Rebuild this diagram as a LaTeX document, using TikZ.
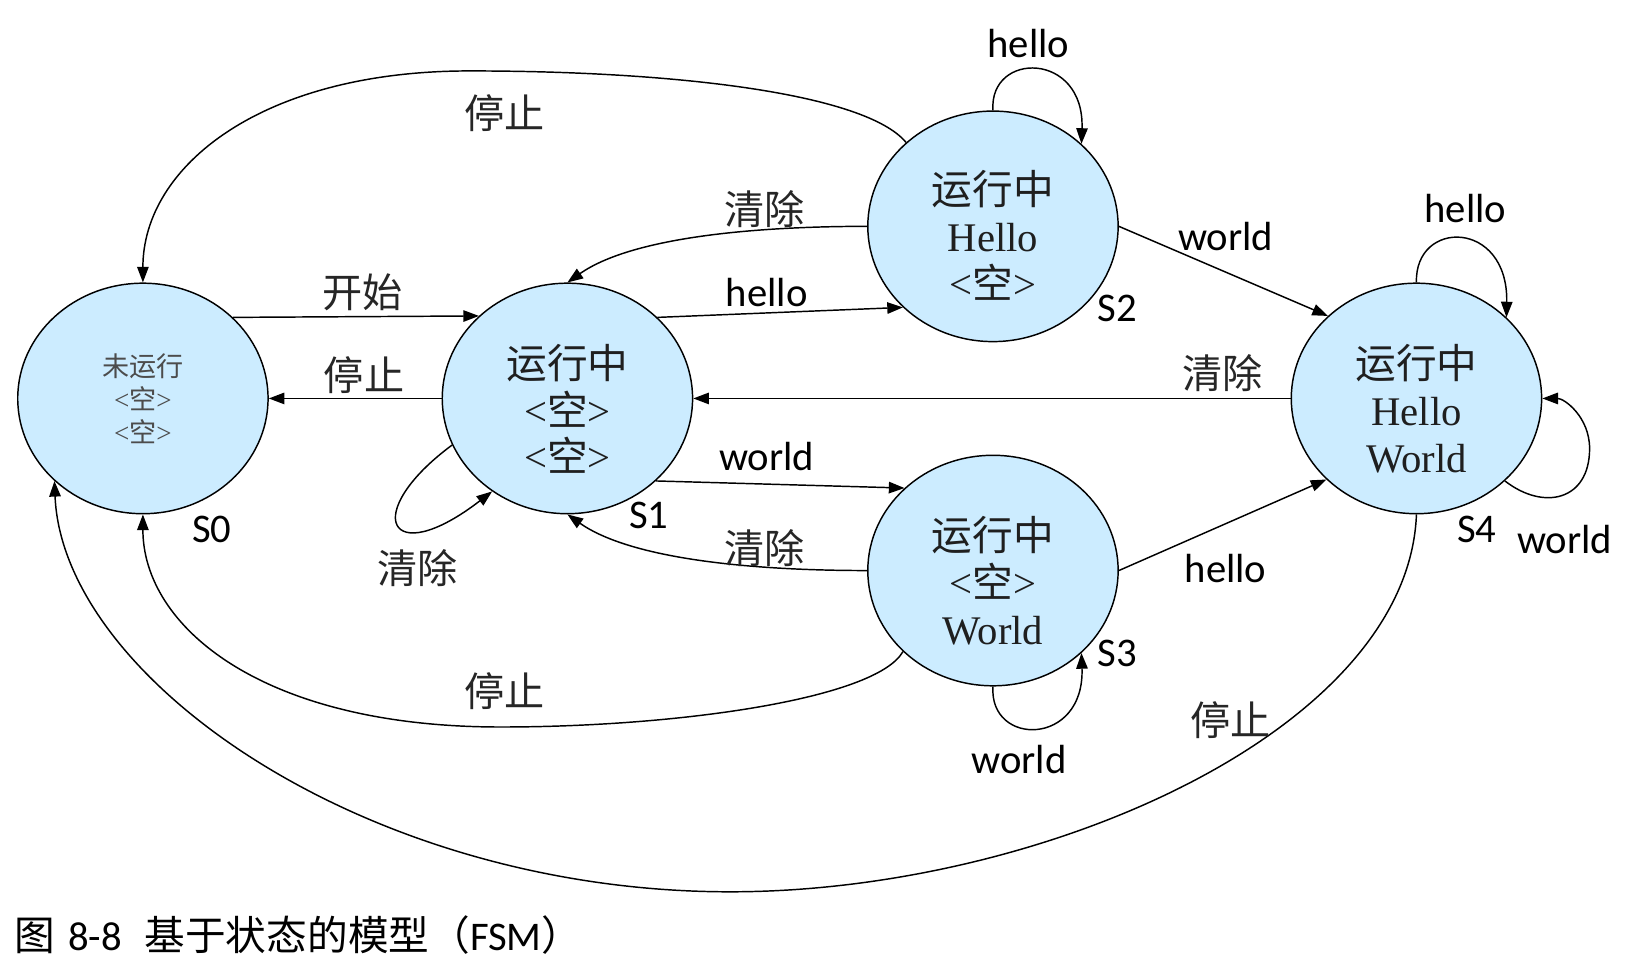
\documentclass[tikz,border=0pt]{standalone}
\usepackage{fontspec}
\setmainfont{Liberation Serif}
\newfontfamily\cjk{Noto Sans CJK SC}
\newfontfamily\lab{Carlito}
\usetikzlibrary{shapes.geometric,arrows.meta}
\definecolor{stfill}{RGB}{204,236,255}
\begin{document}
\begin{tikzpicture}[x=1pt,y=-1pt,
  st/.style={ellipse,draw=black,fill=stfill,line width=1.4pt,minimum width=240pt,minimum height=221pt,inner sep=0pt},
  sttext/.style={align=center,inner sep=0pt,font=\fontsize{39}{45}\selectfont,text=black!88},
  smalltext/.style={align=center,inner sep=0pt,font=\fontsize{26}{31.5}\selectfont,text=black!70},
  lbl/.style={font=\lab\fontsize{39}{40}\selectfont,inner sep=0pt},
  clbl/.style={font=\cjk\fontsize{38.5}{40}\selectfont,inner sep=0pt,text=black!85},
  edge/.style={line width=1.4pt,-{Triangle[length=15pt,width=11pt]}},
]
\useasboundingbox (0,0) rectangle (1568.5,924.2);

% states
\node[st] (s0) at (137,382) {};
\node[st] (s1) at (544,382) {};
\node[st] (s2) at (952,217) {};
\node[st] (s3) at (952,547) {};
\node[st] (s4) at (1358,382) {};

\node[smalltext] (t0) at (137,382) {{\cjk 未运行}\\<{\cjk 空}>\\<{\cjk 空}>};
\node[sttext] (t1) at (544,392) {{\cjk 运行中}\\<{\cjk 空}>\\<{\cjk 空}>};
\node[sttext] (t2) at (952,226) {{\cjk 运行中}\\Hello\\<{\cjk 空}>};
\node[sttext] (t3) at (952,557) {{\cjk 运行中}\\<{\cjk 空}>\\World};
\node[sttext] (t4) at (1358,392) {{\cjk 运行中}\\Hello\\World};

% state names
\node[lbl] (n0) at (203,508) {S0};
\node[lbl] (n1) at (622,494) {S1};
\node[lbl] (n2) at (1071,296) {S2};
\node[lbl] (n3) at (1071,626) {S3};
\node[lbl] (n4) at (1416,508) {S4};

% transitions
\draw[edge] (s0.42.7) -- (s1.137.3);
\draw[edge] (s1.west) -- (s0.east);
\draw[edge] (s1.202.5) .. controls (345,492) and (372,548) .. (s1.231.8);
\draw[edge] (s1.42.6) -- (s2.222.2);
\draw[edge] (s2.west) .. controls (720,217) and (605,228) .. (s1.north);
\draw[edge] (s1.317.4) -- (s3.137.8);
\draw[edge] (s3.west) .. controls (720,547) and (605,536) .. (s1.south);
\draw[edge] (s2.east) -- (s4.137.1);
\draw[edge] (s3.east) -- (s4.222.6);
\draw[edge] (s4.west) -- (s1.east);
\draw[edge] (s2.136.4) .. controls (830,90) and (650,68) .. (450,68) .. controls (250,68) and (137,160) .. (s0.north);
\draw[edge] (s3.222.6) .. controls (840,670) and (650,697) .. (480,697) .. controls (250,697) and (137,600) .. (s0.south);
\draw[edge] (s4.south) .. controls (1350,700) and (1000,855) .. (700,855) .. controls (350,855) and (60,650) .. (s0.223);
\draw[edge] (s2.north) .. controls (948,49) and (1040,49) .. (s2.43);
\draw[edge] (s3.south) .. controls (948,716) and (1040,716) .. (s3.317);
\draw[edge] (s4.north) .. controls (1356,210) and (1446,210) .. (s4.42);
\draw[edge] (s4.317.4) .. controls (1480,490) and (1524,480) .. (1524,430) .. controls (1524,400) and (1500,382) .. (s4.east);

% labels
\node[clbl] (l1) at (348,280) {开始};
\node[clbl] (l2) at (349,360) {停止};
\node[clbl] (l3) at (400,545) {清除};
\node[lbl]  (l4) at (735,280) {hello};
\node[clbl] (l5) at (733,200) {清除};
\node[lbl]  (l6) at (735,438) {world};
\node[clbl] (l7) at (733,525) {清除};
\node[lbl]  (l8) at (1175,227) {world};
\node[lbl]  (l9) at (1175,545) {hello};
\node[clbl] (l10) at (1172,358) {清除};
\node[clbl] (l11) at (484,108) {停止};
\node[clbl] (l12) at (484,663) {停止};
\node[clbl] (l13) at (1180,690) {停止};
\node[lbl]  (l14) at (986,42) {hello};
\node[lbl]  (l15) at (977,728) {world};
\node[lbl]  (l16) at (1405,200) {hello};
\node[lbl]  (l17) at (1500,517) {world};

% caption
\node[anchor=west,inner sep=0pt,font=\fontsize{39}{40}\selectfont] (cap) at (14,896)
  {{\cjk 图}\hspace{12pt}{\lab 8-8}\hspace{22pt}{\cjk 基于状态的模型（}{\lab FSM}{\cjk ）}};
\end{tikzpicture}
\end{document}
